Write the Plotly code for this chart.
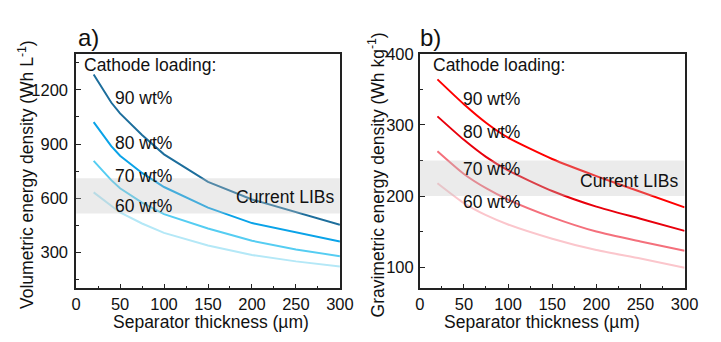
import plotly.graph_objects as go

# Separator thickness (µm)
thickness_vol = [20, 40, 50, 75, 100, 150, 200, 250, 300]
thickness_grav = [20, 50, 75, 100, 150, 200, 250, 300]

# Volumetric energy density (Wh L^-1) for each cathode loading
vol_90 = [1285, 1130, 1070, 950, 843, 690, 593, 521, 453]
vol_80 = [1021, 888, 835, 740, 662, 548, 462, 409, 360]
vol_70 = [807, 700, 655, 575, 512, 432, 364, 316, 279]
vol_60 = [632, 557, 521, 460, 408, 338, 285, 250, 221]

# Gravimetric energy density (Wh kg^-1) for each cathode loading
grav_90 = [364, 329, 303, 282, 252, 228, 206, 184]
grav_80 = [312, 279, 255, 236, 207, 185, 168, 151]
grav_70 = [263, 231, 211, 195, 170, 150, 136, 123]
grav_60 = [218, 190, 173, 160, 140, 124, 112, 99]

loading_labels = ["90 wt%", "80 wt%", "70 wt%", "60 wt%"]

# Range covered by current Li-ion batteries
libs_vol = [515, 710]
libs_grav = [200, 250]

blues = ["#1d6e9c", "#0aa3e8", "#55cdf2", "#b4e8f7"]
reds = ["#ff0000", "#e8000c", "#f4707c", "#fbc6cc"]

W, H = 721, 342
FONT = "Liberation Sans, Arial, sans-serif"

fig = go.Figure()

for ys, c in zip([vol_90, vol_80, vol_70, vol_60], blues):
    fig.add_trace(go.Scatter(x=thickness_vol, y=ys, mode="lines",
                             line=dict(color=c, width=2), xaxis="x", yaxis="y",
                             showlegend=False))
for ys, c in zip([grav_90, grav_80, grav_70, grav_60], reds):
    fig.add_trace(go.Scatter(x=thickness_grav, y=ys, mode="lines",
                             line=dict(color=c, width=2, shape="spline", smoothing=0.6),
                             xaxis="x2", yaxis="y2", showlegend=False))


def px_x(p):
    return p / W


def px_y(p):
    return 1 - p / H


axis_common = dict(showline=True, mirror=True, linecolor="#222", linewidth=1.5,
                   ticks="inside", ticklen=5, tickwidth=1.2, tickcolor="#222",
                   showgrid=False, zeroline=False,
                   tickfont=dict(family=FONT, size=16.5, color="#111"))

xcommon = dict(axis_common, range=[0, 300], dtick=50, tick0=0,
               minor=dict(ticks="inside", ticklen=3, dtick=25, tickcolor="#222"))

fig.update_layout(
    width=W, height=H,
    margin=dict(l=0, r=0, t=0, b=0),
    plot_bgcolor="white", paper_bgcolor="white",
    xaxis=dict(xcommon, domain=[px_x(73), px_x(344)], anchor="y"),
    yaxis=dict(axis_common, domain=[px_y(287), px_y(46)], range=[100, 1400],
               dtick=300, tick0=0, anchor="x", ticklabelstandoff=3,
               minor=dict(ticks="inside", ticklen=3, dtick=150, tick0=0, tickcolor="#222")),
    xaxis2=dict(xcommon, domain=[px_x(426), px_x(698)], anchor="y2"),
    yaxis2=dict(axis_common, domain=[px_y(287), px_y(46)], range=[70, 400],
                dtick=100, tick0=0, anchor="x2", ticklabelstandoff=1,
                minor=dict(ticks="inside", ticklen=3, dtick=50, tick0=0, tickcolor="#222")),
)

# Shaded band for current LIBs, drawn over the curves
for xr, yr, band in [("x", "y", libs_vol), ("x2", "y2", libs_grav)]:
    fig.add_shape(type="rect", xref=xr, yref=yr, x0=0, x1=300, y0=band[0], y1=band[1],
                  fillcolor="rgba(195,195,195,0.33)", line=dict(width=0), layer="above")

annotations = []


def txt(x, y, s, size=17.5, xanchor="left", angle=0):
    annotations.append(dict(x=px_x(x), y=px_y(y), xref="paper", yref="paper",
                            text=s, showarrow=False, xanchor=xanchor, yanchor="middle",
                            textangle=angle,
                            font=dict(family=FONT, size=size, color="#111")))


# Panel a
txt(73, 29, "a)", size=24)
txt(79, 58, "Cathode loading:")
for lab, yy in zip(loading_labels, [91, 138, 172, 202]):
    txt(111, yy, lab)
txt(340, 193, "Current LIBs", xanchor="right")
txt(212, 321, "Separator thickness (µm)", xanchor="center")
txt(21, 170, "Volumetric energy density (Wh L<sup>-1</sup>)", xanchor="center", angle=-90)

# Panel b
txt(424, 29, "b)", size=24)
txt(438, 58, "Cathode loading:")
for lab, yy in zip(loading_labels, [92, 126, 164, 198]):
    txt(468, yy, lab)
txt(693, 177, "Current LIBs", xanchor="right")
txt(552, 321, "Separator thickness (µm)", xanchor="center")
txt(381, 170, "Gravimetric energy density (Wh kg<sup>-1</sup>)", xanchor="center", angle=-90)

fig.update_layout(annotations=annotations)

fig.write_html("out.html")
